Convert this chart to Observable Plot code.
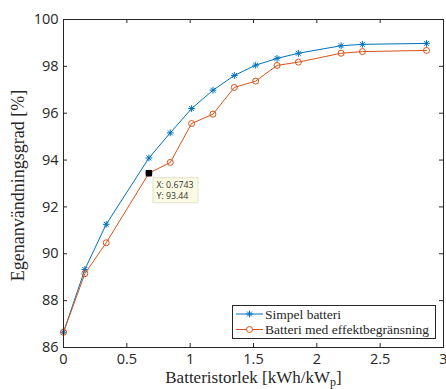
<!DOCTYPE html>
<html><head><meta charset="utf-8">
<script src="https://cdn.jsdelivr.net/npm/d3@7"></script>
<script src="https://cdn.jsdelivr.net/npm/@observablehq/plot@0.6"></script>
<style>
body{margin:0;background:#fff}
#chart{width:446px;height:389px}
</style>
</head><body><div id="chart"></div><script>
const batterySize = [0, 0.1686, 0.3372, 0.6743, 0.8429, 1.0115, 1.18, 1.3486, 1.5172, 1.6858, 1.8544, 2.1915, 2.3601, 2.8658];
const simpel = [86.65, 89.33, 91.26, 94.09, 95.16, 96.2, 96.98, 97.61, 98.05, 98.34, 98.56, 98.88, 98.94, 98.98];
const begransad = [86.65, 89.15, 90.47, 93.44, 93.9, 95.56, 95.96, 97.1, 97.37, 98.04, 98.18, 98.56, 98.63, 98.68];
const seriesNames = ["Simpel batteri", "Batteri med effektbegränsning"];
const xTicks = [0, 0.5, 1, 1.5, 2, 2.5, 3];
const yTicks = [86, 88, 90, 92, 94, 96, 98, 100];
const tipPoint = [{x: 0.6743, y: 93.44}];
const tipLines = ["X: 0.6743", "Y: 93.44"];
const yLabel = "Egenanvändningsgrad [%]";
const xLabelMain = "Batteristorlek [kWh/kW";
const xLabelSub = "p";
const xLabelEnd = "]";

const blue = "#0072BD", orange = "#D95319", axisColor = "#262626";
const serif = "'Liberation Serif', 'DejaVu Serif', serif";
const sans = "'Open Sans', 'Noto Sans', sans-serif";

const star = {
  draw(ctx, size) {
    const r = Math.sqrt(size / Math.PI), d = r * 0.72;
    ctx.moveTo(-r, 0); ctx.lineTo(r, 0);
    ctx.moveTo(0, -r); ctx.lineTo(0, r);
    ctx.moveTo(-d, -d); ctx.lineTo(d, d);
    ctx.moveTo(-d, d); ctx.lineTo(d, -d);
  }
};

const s1 = batterySize.map((x, i) => ({x, y: simpel[i]}));
const s2 = batterySize.map((x, i) => ({x, y: begransad[i]}));

const W = 446, H = 389, mL = 63, mR = 3, mT = 19, mB = 42;
const innerH = H - mT - mB, innerW = W - mL - mR, tk = 4;

const plot = Plot.plot({
  width: W, height: H,
  marginLeft: mL, marginRight: mR, marginTop: mT, marginBottom: mB,
  style: {fontFamily: sans, fontSize: "14.5px", color: axisColor, background: "#fff"},
  x: {domain: [0, 3], axis: null},
  y: {domain: [86, 100], axis: null},
  marks: [
    Plot.tickX(xTicks, {x: d => d, insetTop: innerH - tk, stroke: axisColor}),
    Plot.tickX(xTicks, {x: d => d, insetBottom: innerH - tk, stroke: axisColor}),
    Plot.tickY(yTicks, {y: d => d, insetRight: innerW - tk, stroke: axisColor}),
    Plot.tickY(yTicks, {y: d => d, insetLeft: innerW - tk, stroke: axisColor}),
    Plot.axisX(xTicks, {tickSize: 0, tickPadding: 6, label: null, tickFormat: d => String(d), fill: axisColor}),
    Plot.axisY(yTicks, {tickSize: 0, tickPadding: 5, label: null, tickFormat: d => String(d), fill: axisColor}),
    Plot.line(s1, {x: "x", y: "y", stroke: blue, strokeWidth: 1}),
    Plot.dot(s1, {x: "x", y: "y", symbol: star, r: 3.4, stroke: blue, strokeWidth: 1, fill: "none"}),
    Plot.line(s2, {x: "x", y: "y", stroke: orange, strokeWidth: 1}),
    Plot.dot(s2, {x: "x", y: "y", r: 3, stroke: orange, strokeWidth: 1, fill: "none"}),
    Plot.dot(tipPoint, {x: "x", y: "y", symbol: "square", r: 3.6, fill: "black"}),
    Plot.frame({stroke: axisColor}),
    Plot.text([yLabel], {frameAnchor: "left", textAnchor: "middle", lineAnchor: "middle", rotate: -90, dx: -45, dy: 2, fontFamily: serif, fontSize: 18, fill: axisColor}),
    Plot.text([xLabelMain + xLabelSub + xLabelEnd], {frameAnchor: "bottom", textAnchor: "middle", lineAnchor: "middle", dy: 30.5, fontFamily: serif, fontSize: 17, fill: axisColor})
  ]
});

const svg = d3.select(plot);
// subscript in x label
svg.selectAll("text").filter(function() { return this.textContent === xLabelMain + xLabelSub + xLabelEnd; })
  .each(function() {
    const t = d3.select(this);
    t.text(null);
    t.append("tspan").text(xLabelMain);
    t.append("tspan").attr("font-size", 12).attr("dy", 2.5).text(xLabelSub);
    t.append("tspan").attr("dy", -2.5).text(xLabelEnd);
  });

const sx = plot.scale("x"), sy = plot.scale("y");

// data tip
const px = sx.apply(tipPoint[0].x), py = sy.apply(tipPoint[0].y);
const tip = svg.append("g").attr("text-anchor", "start");
tip.append("rect").attr("x", px + 4.5).attr("y", py + 5).attr("width", 45).attr("height", 25)
  .attr("fill", "#fbfbe4").attr("stroke", "#e2e2cc").attr("stroke-width", 1);
tipLines.forEach((s, i) => {
  tip.append("text").attr("x", px + 8).attr("y", py + 15.5 + i * 11)
    .attr("font-family", sans).attr("font-size", 8.8).attr("fill", "#333").text(s);
});

// legend
const lg = svg.append("g").attr("text-anchor", "start");
lg.append("rect").attr("x", 232.5).attr("y", 305.5).attr("width", 203).attr("height", 33)
  .attr("fill", "#fff").attr("stroke", axisColor).attr("stroke-width", 1);
const lgColors = [blue, orange];
seriesNames.forEach((name, i) => {
  const cy = 314 + i * 15.5;
  lg.append("line").attr("x1", 236).attr("x2", 263).attr("y1", cy).attr("y2", cy)
    .attr("stroke", lgColors[i]).attr("stroke-width", 1);
  if (i === 0) {
    lg.append("path").attr("transform", `translate(249.5,${cy})`)
      .attr("d", d3.symbol(star, Math.PI * 3.4 * 3.4)()).attr("stroke", blue).attr("fill", "none");
  } else {
    lg.append("circle").attr("cx", 249.5).attr("cy", cy).attr("r", 3)
      .attr("stroke", orange).attr("fill", "#fff");
  }
  lg.append("text").attr("x", 265).attr("y", cy).attr("dy", "0.35em")
    .attr("font-family", serif).attr("font-size", 13.5).attr("fill", axisColor).text(name);
});

document.getElementById("chart").appendChild(plot);
</script></body></html>
